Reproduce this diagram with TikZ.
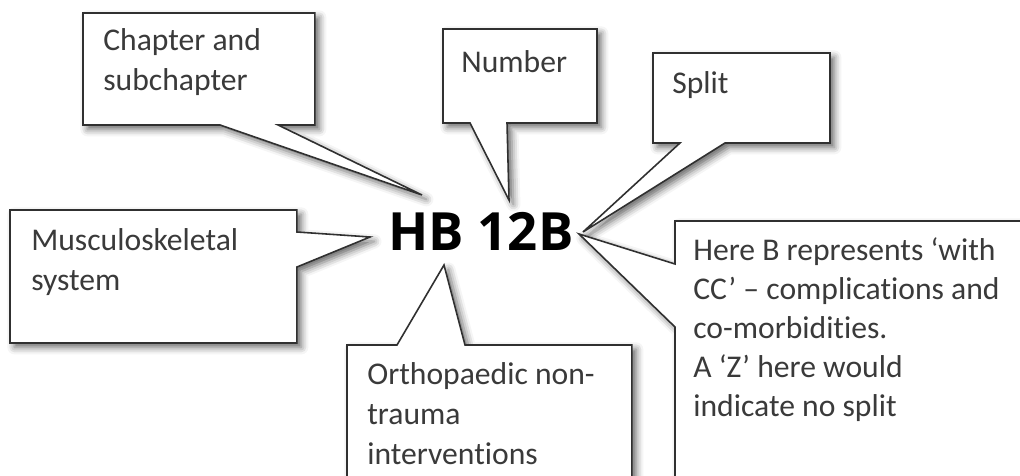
\documentclass[tikz,border=0pt]{standalone}
\usepackage{fontspec}
\setmainfont{Carlito}[Ligatures=NoCommon]
\newfontfamily\codefont{Open Sans}
\usetikzlibrary{calc,shadows.blur}
\definecolor{ink}{HTML}{3A3A3A}
\definecolor{frame}{HTML}{303030}

\begin{document}
\begin{tikzpicture}[x=0.02cm,y=-0.02cm,
  area/.style={inner sep=0pt,outer sep=0pt,anchor=north west},
  bubble/.style={draw=frame,line width=0.9pt,fill=white,line join=miter,
    blur shadow={shadow xshift=2.5pt,shadow yshift=-2.5pt,shadow blur radius=4pt,shadow opacity=60}},
  note/.style={inner sep=0pt,anchor=north west,align=left,text=ink,
    font=\fontsize{18}{22.7}\selectfont}]
  \useasboundingbox (0,0) rectangle (1020,476);
  \clip (0,0) rectangle (1020,476);

  % The code itself
  \node[font=\codefont\bfseries\fontsize{30}{36}\selectfont] (code) at (481,231) {HB 12B};
  \coordinate (tipchap) at (422,195);
  \coordinate (tipnum) at (509,200);
  \coordinate (tipsplit) at (583,232);
  \coordinate (tipmusc) at (370,237);
  \coordinate (tiportho) at (444,265);
  \coordinate (tiphere) at (579,234);

  % Areas of the boxes
  \node[area,minimum width=4.64cm,minimum height=2.24cm] (chap) at (83,13) {};
  \node[area,minimum width=3.08cm,minimum height=1.88cm] (num) at (443,29) {};
  \node[area,minimum width=3.54cm,minimum height=1.80cm] (split) at (653,53) {};
  \node[area,minimum width=5.74cm,minimum height=2.66cm] (musc) at (10,210) {};
  \node[area,minimum width=5.70cm,minimum height=3.20cm] (ortho) at (347,345) {};
  \node[area,minimum width=7.60cm,minimum height=5.80cm] (here) at (675,221) {};

  % Callouts pointing at the code
  \draw[bubble] (chap.north west) -- (chap.north east) -- (chap.south east)
    -- ($(chap.south west)+(195,0)$) -- (tipchap) -- ($(chap.south west)+(137,0)$)
    -- (chap.south west) -- cycle;
  \draw[bubble] (num.north west) -- (num.north east) -- (num.south east)
    -- ($(num.south west)+(64,0)$) -- (tipnum) -- ($(num.south west)+(27,0)$)
    -- (num.south west) -- cycle;
  \draw[bubble] (split.north west) -- (split.north east) -- (split.south east)
    -- ($(split.south west)+(72,0)$) -- (tipsplit) -- ($(split.south west)+(27,0)$)
    -- (split.south west) -- cycle;
  \draw[bubble] (musc.north west) -- (musc.north east) -- ($(musc.north east)+(0,22)$)
    -- (tipmusc) -- ($(musc.north east)+(0,57)$) -- (musc.south east)
    -- (musc.south west) -- cycle;
  \draw[bubble] (ortho.north west) -- ($(ortho.north west)+(50,0)$) -- (tiportho)
    -- ($(ortho.north west)+(118,0)$) -- (ortho.north east) -- (ortho.south east)
    -- (ortho.south west) -- cycle;
  \draw[bubble] (here.north west) -- (here.north east) -- (here.south east)
    -- (here.south west) -- ($(here.north west)+(0,106)$) -- (tiphere)
    -- ($(here.north west)+(0,43)$) -- cycle;

  % Texts
  \node[note] (chaptext) at ([shift={(20,15)}]chap.north west) {Chapter and\\subchapter};
  \node[note] (numtext) at ([shift={(18,21)}]num.north west) {Number};
  \node[note] (splittext) at ([shift={(19,18)}]split.north west) {Split};
  \node[note] (musctext) at ([shift={(21,18)}]musc.north west) {Musculoskeletal\\system};
  \node[note] (orthotext) at ([shift={(20,17)}]ortho.north west) {Orthopaedic non-\\trauma\\interventions};
  \node[note,font=\fontsize{18}{22.3}\selectfont] (heretext) at ([shift={(18,16)}]here.north west)
    {Here B represents ‘with\\CC’ – complications and\\co-morbidities.\\A ‘Z’ here would\\indicate no split};
\end{tikzpicture}
\end{document}
